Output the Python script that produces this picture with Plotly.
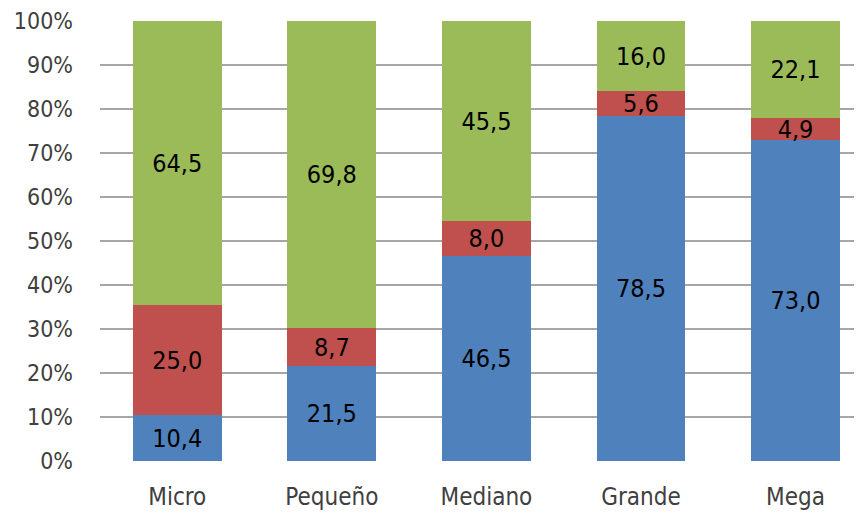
import plotly.graph_objects as go

categories = ["Micro", "Pequeño", "Mediano", "Grande", "Mega"]
blue_vals = [10.4, 21.5, 46.5, 78.5, 73.0]
red_vals = [25.0, 8.7, 8.0, 5.6, 4.9]
green_vals = [64.5, 69.8, 45.5, 16.0, 22.1]
tick_vals = [0, 10, 20, 30, 40, 50, 60, 70, 80, 90, 100]
tick_text = [f"{v}%" for v in tick_vals]

FONT = "DejaVu Sans Condensed"

def fmt(v):
    return f"{v:.1f}".replace(".", ",")

fig = go.Figure()
for vals, color in [(blue_vals, "#4F81BD"), (red_vals, "#C0504D"), (green_vals, "#9BBB59")]:
    fig.add_trace(go.Bar(
        x=categories, y=vals, marker=dict(color=color, line=dict(width=0)),
        text=[fmt(v) for v in vals], textposition="inside", insidetextanchor="middle",
        textfont=dict(family=FONT, size=25, color="black"), constraintext="none",
    ))

fig.update_layout(
    barmode="stack", barnorm="percent", bargap=0.425,
    width=862, height=514, showlegend=False,
    margin=dict(l=92, r=8, t=13, b=61),
    plot_bgcolor="white", paper_bgcolor="white",
    uniformtext=dict(minsize=8, mode="show"),
    xaxis=dict(range=[-0.5, 4.43], showline=False, ticks="", ticklabelstandoff=19,
               automargin=False,
               tickfont=dict(family=FONT, size=24, color="#404040")),
    yaxis=dict(range=[0, 100], tickvals=tick_vals, ticktext=tick_text,
               showgrid=True, gridcolor="#A6A6A6", gridwidth=1.5, zeroline=False,
               automargin=False,
               ticklabelstandoff=26, tickfont=dict(family=FONT, size=23, color="#404040")),
)
fig.write_html("out.html")
